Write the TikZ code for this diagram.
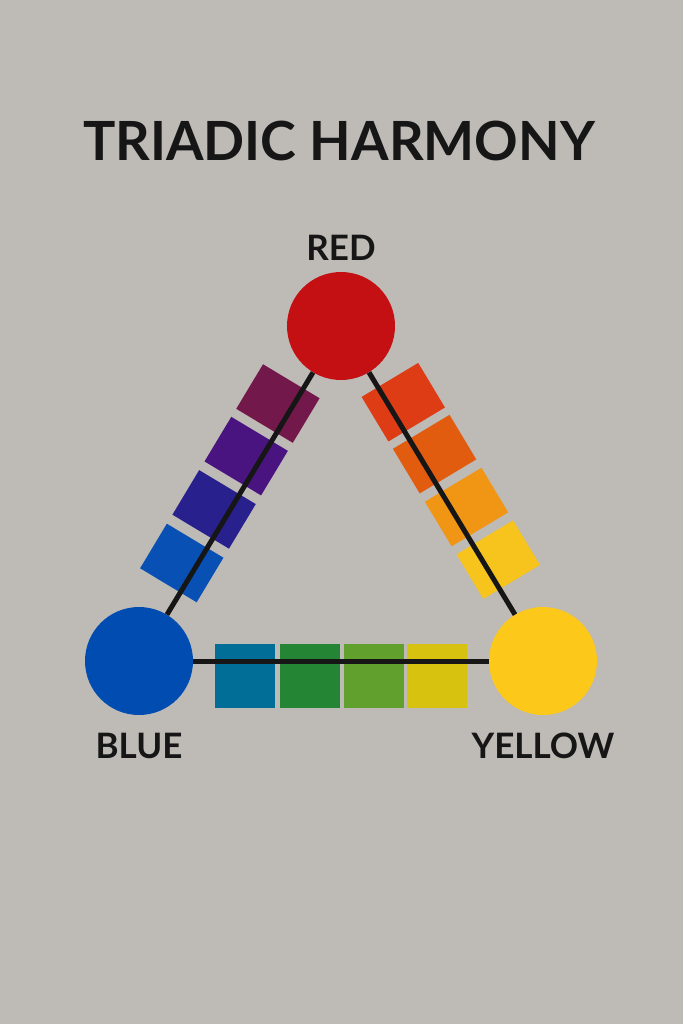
\documentclass[tikz,border=0pt]{standalone}
\usepackage{fontspec}
\setmainfont{Lato}
\usetikzlibrary{calc}

\definecolor{paper}{RGB}{190,186,182}
\definecolor{ink}{RGB}{22,22,22}
\definecolor{redhub}{RGB}{196,16,18}
\definecolor{bluehub}{RGB}{0,76,176}
\definecolor{yellowhub}{RGB}{252,200,26}
% swatches from red to blue
\definecolor{rb1}{RGB}{114,24,74}
\definecolor{rb2}{RGB}{74,20,128}
\definecolor{rb3}{RGB}{40,32,140}
\definecolor{rb4}{RGB}{8,80,180}
% swatches from red to yellow
\definecolor{ry1}{RGB}{222,60,20}
\definecolor{ry2}{RGB}{226,92,16}
\definecolor{ry3}{RGB}{240,150,20}
\definecolor{ry4}{RGB}{246,196,28}
% swatches from blue to yellow
\definecolor{by1}{RGB}{0,110,150}
\definecolor{by2}{RGB}{36,134,52}
\definecolor{by3}{RGB}{98,160,46}
\definecolor{by4}{RGB}{216,194,16}

\tikzset{
  hub/.style={circle,inner sep=0pt,minimum size=108pt},
  swatch/.style={rectangle,inner sep=0pt,minimum width=66pt,minimum height=52pt},
  link/.style={line width=5pt,draw=ink},
  tag/.style={inner sep=0pt,anchor=base,text=ink,font=\bfseries\fontsize{35}{35}\selectfont}
}

\begin{document}
\begin{tikzpicture}[x=1pt,y=-1pt]
    \fill[paper] (0,0) rectangle (683,1024);
    \useasboundingbox (0,0) rectangle (683,1024);

    \node at (339,161) [tag,font=\bfseries\fontsize{54}{54}\selectfont] (title) {TRIADIC HARMONY};

    \node at (341,326) [hub,fill=redhub] (red) {};
    \node at (139,661) [hub,fill=bluehub] (blue) {};
    \node at (543,661) [hub,fill=yellowhub] (yellow) {};

    \node at (341,260) [tag] (redtag) {RED};
    \node at (139,758) [tag] (bluetag) {BLUE};
    \node at (543,758) [tag] (yellowtag) {YELLOW};

    % the swatches sit a little outside each side
    \foreach \t/\c [count=\i] in {0.253/rb1,0.410/rb2,0.569/rb3,0.729/rb4}
      \node at ($(red.center)!\t!(blue.center)!14pt!-90:(blue.center)$) [swatch,fill=\c,rotate=-31] (left\i) {};
    \foreach \t/\c [count=\i] in {0.249/ry1,0.404/ry2,0.562/ry3,0.719/ry4}
      \node at ($(red.center)!\t!(yellow.center)!14pt!90:(yellow.center)$) [swatch,fill=\c,rotate=31] (right\i) {};
    \foreach \t/\c [count=\i] in {0.262/by1,0.423/by2,0.582/by3,0.738/by4}
      \node at ($(blue.center)!\t!(yellow.center)!15pt!-90:(yellow.center)$) [swatch,fill=\c,minimum width=60pt,minimum height=64pt] (bottom\i) {};

    \draw[link] (red) -- (blue);
    \draw[link] (red) -- (yellow);
    \draw[link] (blue) -- (yellow);
\end{tikzpicture}
\end{document}
